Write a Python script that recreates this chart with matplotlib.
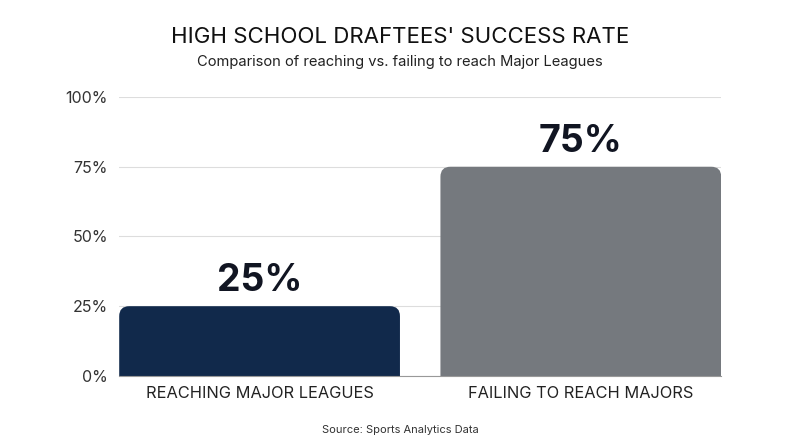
import matplotlib
matplotlib.use('Agg')
import matplotlib.pyplot as plt
from matplotlib.patches import FancyBboxPatch
from matplotlib.ticker import FuncFormatter

categories = ['REACHING MAJOR LEAGUES', 'FAILING TO REACH MAJORS']
values = [25, 75]
bar_colors = ['#11294b', '#75797e']
y_ticks = [0, 25, 50, 75, 100]

plt.rcParams['font.family'] = ['Inter', 'DejaVu Sans']

fig = plt.figure(figsize=(8, 4.47), dpi=100)
ax = fig.add_axes([0.149, 0.159, 0.7525, 0.624])

bars = ax.bar(range(len(categories)), values, width=0.874, color=bar_colors)
ax.set_xlim(-0.437, len(categories) - 1 + 0.437)
ax.set_ylim(0, 100)

# swap plain bars for ones with rounded top corners
px_x = 1 / 321.5
px_y = 100 / 279
for b in bars:
    x, w, h = b.get_x(), b.get_width(), b.get_height()
    p = FancyBboxPatch((x, -6), w, h + 6,
                       boxstyle=f'round,pad=0,rounding_size={10 * px_x}',
                       mutation_aspect=px_y / px_x,
                       facecolor=b.get_facecolor(), edgecolor='none', zorder=2)
    ax.add_patch(p)
    b.remove()
    ax.text(x + w / 2, h + 2.5, f'{h:.0f}%', ha='center', va='bottom',
            fontsize=27, fontweight='bold', color='#111522')

ax.set_yticks(y_ticks)
ax.yaxis.set_major_formatter(FuncFormatter(lambda v, _: f'{v:.0f}%'))
ax.set_xticks(range(len(categories)))
ax.set_xticklabels(categories, fontsize=11.8, color='#222222')
ax.tick_params(axis='y', labelsize=11.5, labelcolor='#333333', length=0, pad=8)
ax.tick_params(axis='x', length=0, pad=7)
ax.grid(axis='y', color='#dddddd', linewidth=0.8, zorder=0)
ax.set_axisbelow(True)
for s in ['top', 'right', 'left']:
    ax.spines[s].set_visible(False)
ax.spines['bottom'].set_color('#999999')
ax.spines['bottom'].set_linewidth(0.8)

fig.text(0.5, 0.918, "HIGH SCHOOL DRAFTEES' SUCCESS RATE", ha='center', va='center',
         fontsize=16, color='#111111')
fig.text(0.5, 0.861, 'Comparison of reaching vs. failing to reach Major Leagues',
         ha='center', va='center', fontsize=10.6, color='#222222')
fig.text(0.5, 0.038, 'Source: Sports Analytics Data', ha='center', va='center',
         fontsize=8, color='#333333')

fig.savefig('out.png', dpi=100, facecolor='white')
